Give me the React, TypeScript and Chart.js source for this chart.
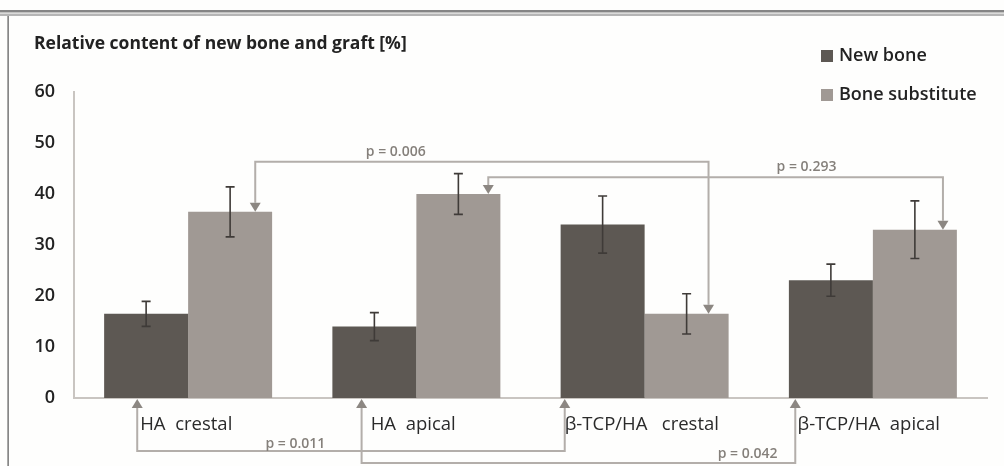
import React, { useEffect, useRef } from "react";
import { Chart, registerables } from "chart.js";

Chart.register(...registerables);

// ---- data ----
const categories = ["HA  crestal", "HA  apical", "β-TCP/HA   crestal", "β-TCP/HA  apical"];
const seriesNames = ["New bone", "Bone substitute"];
const newBone = [16.5, 14.0, 34.0, 23.1];
const newBoneSD = [2.45, 2.75, 5.6, 3.15];
const boneSubstitute = [36.5, 40.0, 16.5, 33.0];
const boneSubstituteSD = [4.9, 4.0, 3.95, 5.65];
const yMin = 0;
const yMax = 60;
const yStep = 10;
const title = "Relative content of new bone and graft [%]";
const pLabels = ["p = 0.006", "p = 0.293", "p = 0.011", "p = 0.042"];

// ---- styles / layout of annotations ----
const colors = ["#5d5853", "#a09994"];
const sdArrays = [newBoneSD, boneSubstituteSD];
const FONT = "'Open Sans', 'DejaVu Sans', sans-serif";

// bracket: compared dataset, categories, arrow offsets (in category widths),
// bracket level (in value units), label position fraction
const brackets = [
  { ds: 1, from: 0, to: 2, offs: [0.294, 0.28], level: 46.3, label: 0, frac: 0.31, dy: -10 },
  { ds: 1, from: 1, to: 3, offs: [0.315, 0.307], level: 43.3, label: 1, frac: 0.70, dy: -10 },
  { ds: 0, from: 0, to: 2, offs: [-0.223, -0.35], level: -10.4, label: 2, frac: 0.37, dy: -7 },
  { ds: 0, from: 1, to: 3, offs: [-0.24, -0.34], level: -12.75, label: 3, frac: 0.89, dy: -9 },
];
const catLabelOffs = [-0.21, -0.2, -0.35, -0.33];

const decorPlugin = {
  id: "decor",
  beforeDraw(chart: any) {
    const ctx = chart.ctx;
    ctx.save();
    ctx.fillStyle = "#fefefd";
    ctx.fillRect(0, 0, chart.width, chart.height);
    // frame
    ctx.fillStyle = "#858585";
    ctx.fillRect(0, 10, chart.width, 2.5);
    ctx.fillStyle = "#b5b5b5";
    ctx.fillRect(0, 13.5, chart.width, 2.5);
    ctx.fillStyle = "#555555";
    ctx.fillRect(7.5, 16, 1.2, chart.height - 16);
    // title
    ctx.fillStyle = "#222";
    ctx.font = `bold 17.5px ${FONT}`;
    ctx.textAlign = "left";
    ctx.textBaseline = "middle";
    ctx.fillText(title, 34, 44);
    // legend
    const lx = 821;
    const ly = [56, 95];
    ctx.font = `600 18px ${FONT}`;
    seriesNames.forEach((n, i) => {
      ctx.fillStyle = colors[i];
      ctx.fillRect(lx, ly[i] - 6, 12, 12);
      ctx.fillStyle = "#222";
      ctx.fillText(n, lx + 18, ly[i]);
    });
    ctx.restore();
  },
  afterDatasetsDraw(chart: any) {
    const ctx = chart.ctx;
    const xs = chart.scales.x;
    const ys = chart.scales.y;
    const catW = xs.width / categories.length;
    ctx.save();
    // error bars
    chart.data.datasets.forEach((ds: any, di: number) => {
      const meta = chart.getDatasetMeta(di);
      meta.data.forEach((bar: any, i: number) => {
        const v = ds.data[i];
        const sd = sdArrays[di][i];
        const x = bar.x;
        const yT = ys.getPixelForValue(v + sd);
        const yB = ys.getPixelForValue(v - sd);
        ctx.strokeStyle = "#3f3b38";
        ctx.lineWidth = 1.6;
        ctx.beginPath();
        ctx.moveTo(x, yT);
        ctx.lineTo(x, yB);
        ctx.moveTo(x - 4.5, yT);
        ctx.lineTo(x + 4.5, yT);
        ctx.moveTo(x - 4.5, yB);
        ctx.lineTo(x + 4.5, yB);
        ctx.stroke();
      });
    });
    // brackets
    const zeroY = ys.getPixelForValue(0);
    brackets.forEach((b) => {
      const data = chart.data.datasets[b.ds].data;
      const x1 = xs.getPixelForValue(b.from) + b.offs[0] * catW;
      const x2 = xs.getPixelForValue(b.to) + b.offs[1] * catW;
      const ly = ys.getPixelForValue(b.level);
      const down = b.level > 0;
      const tip1 = down ? ys.getPixelForValue(data[b.from]) : zeroY + 1;
      const tip2 = down ? ys.getPixelForValue(data[b.to]) : zeroY + 1;
      const ah = 9;
      const aw = 5.5;
      const base1 = down ? tip1 - ah : tip1 + ah;
      const base2 = down ? tip2 - ah : tip2 + ah;
      ctx.strokeStyle = "#b3aeaa";
      ctx.lineWidth = 2;
      ctx.beginPath();
      ctx.moveTo(x1, base1);
      ctx.lineTo(x1, ly);
      ctx.lineTo(x2, ly);
      ctx.lineTo(x2, base2);
      ctx.stroke();
      ctx.fillStyle = "#8c8782";
      [[x1, tip1, base1], [x2, tip2, base2]].forEach(([x, t, bs]) => {
        ctx.beginPath();
        ctx.moveTo(x, t);
        ctx.lineTo(x - aw, bs);
        ctx.lineTo(x + aw, bs);
        ctx.closePath();
        ctx.fill();
      });
      ctx.fillStyle = "#85807b";
      ctx.font = `600 14px ${FONT}`;
      ctx.textAlign = "center";
      ctx.textBaseline = "middle";
      ctx.fillText(pLabels[b.label], x1 + (x2 - x1) * b.frac, ly + b.dy);
    });
    // category labels
    ctx.fillStyle = "#2a2a2a";
    ctx.font = `18.5px ${FONT}`;
    ctx.textAlign = "left";
    ctx.textBaseline = "middle";
    categories.forEach((c, i) => {
      const x = xs.getPixelForValue(i) + catLabelOffs[i] * catW;
      ctx.fillText(c, x, zeroY + 27);
    });
    ctx.restore();
  },
};

export default function App() {
  const ref = useRef<HTMLCanvasElement>(null);
  useEffect(() => {
    if (!ref.current) return;
    const chart = new Chart(ref.current, {
      type: "bar",
      data: {
        labels: categories,
        datasets: [
          { label: seriesNames[0], data: newBone, backgroundColor: colors[0], borderWidth: 0 },
          { label: seriesNames[1], data: boneSubstitute, backgroundColor: colors[1], borderWidth: 0 },
        ],
      },
      options: {
        animation: false,
        responsive: false,
        devicePixelRatio: 1,
        layout: { padding: { top: 92, bottom: 68, left: 0, right: 17 } },
        plugins: { legend: { display: false }, tooltip: { enabled: false }, title: { display: false } },
        datasets: { bar: { categoryPercentage: 0.736, barPercentage: 1.0 } },
        scales: {
          x: {
            grid: { display: false, drawTicks: false, tickLength: 0 },
            border: { display: true, color: "#c9c5c1", width: 2 },
            ticks: { display: false },
          },
          y: {
            min: yMin,
            max: yMax,
            grid: { display: false, drawTicks: false, tickLength: 0 },
            border: { display: true, color: "#c9c5c1", width: 2 },
            ticks: {
              stepSize: yStep,
              padding: 19,
              color: "#222",
              font: { family: FONT, size: 18, weight: "600" as any },
            },
            afterFit: (s: any) => {
              s.width = 74;
            },
          },
        },
      },
      plugins: [decorPlugin],
    });
    return () => chart.destroy();
  }, []);
  return (
    <canvas
      ref={ref}
      width={1004}
      height={466}
      style={{ position: "fixed", left: 0, top: 0, width: 1004, height: 466, display: "block" }}
    />
  );
}
